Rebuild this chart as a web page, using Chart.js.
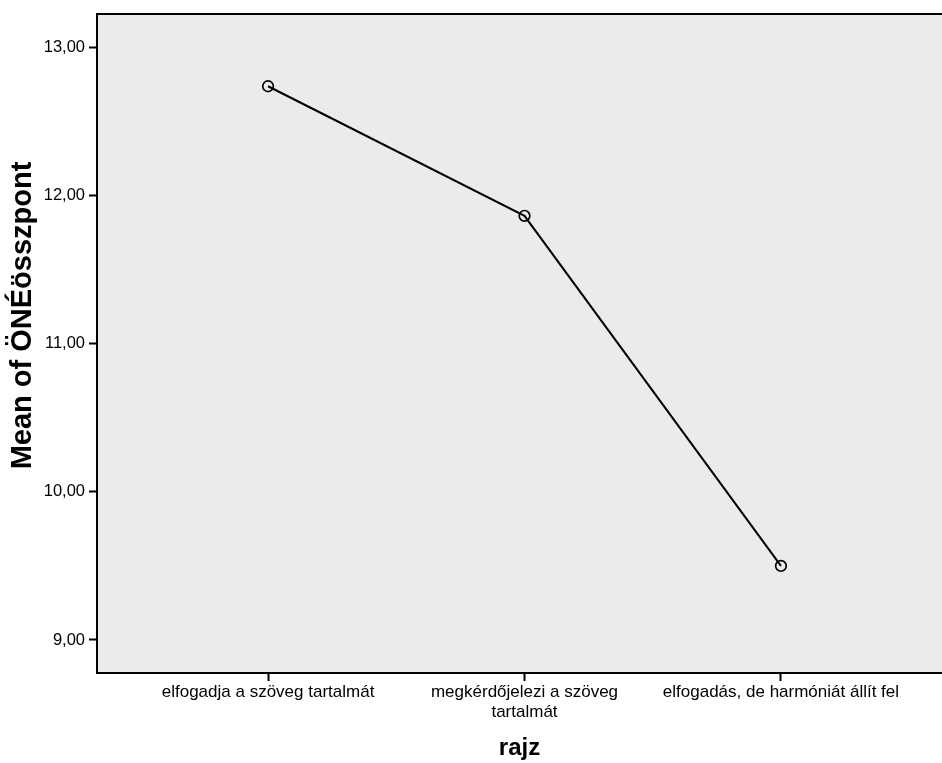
<!DOCTYPE html>
<html>
<head>
<meta charset="utf-8">
<script src="https://cdn.jsdelivr.net/npm/chart.js@4"></script>
<style>
  html, body { margin: 0; padding: 0; background: #fff; }
  #wrap { width: 942px; height: 763px; }
</style>
</head>
<body>
<div id="wrap"><canvas id="meanChart" width="942" height="763"></canvas></div>
<script>
// rajz categories and mean ÖNÉösszpont
const categories = [
  "elfogadja a szöveg tartalmát",
  ["megkérdőjelezi a szöveg", "tartalmát"],
  "elfogadás, de harmóniát állít fel"
];
const categoryPos = [1, 2, 3];
const meanValues = [12.74, 11.865, 9.5];
const yTicks = [9, 10, 11, 12, 13];
const yTitle = "Mean of ÖNÉösszpont";

const font = "'Liberation Sans', Arial, sans-serif";

const plotBackground = {
  id: "plotBackground",
  beforeDraw(chart) {
    const { ctx, chartArea: a } = chart;
    ctx.save();
    ctx.fillStyle = "#ebebeb";
    ctx.fillRect(a.left, a.top, a.right - a.left, a.bottom - a.top);
    ctx.restore();
  },
  afterDraw(chart) {
    const { ctx, chartArea: a } = chart;
    ctx.save();
    // top frame line
    ctx.strokeStyle = "#000";
    ctx.lineWidth = 2;
    ctx.beginPath();
    ctx.moveTo(a.left, a.top);
    ctx.lineTo(a.right, a.top);
    ctx.stroke();
    // y axis title, sits a bit above the plot centre like the original
    ctx.translate(23, (a.top + a.bottom) / 2 - 28);
    ctx.rotate(-Math.PI / 2);
    ctx.fillStyle = "#000";
    ctx.font = "bold 29px " + font;
    ctx.textAlign = "center";
    ctx.textBaseline = "middle";
    ctx.fillText(yTitle, 0, 0);
    ctx.restore();
  }
};

new Chart(document.getElementById("meanChart"), {
  type: "line",
  data: {
    datasets: [
      {
        data: categoryPos.map((x, i) => ({ x: x, y: meanValues[i] })),
        borderColor: "#000",
        borderWidth: 2,
        pointRadius: 5.3,
        pointBorderWidth: 1.7,
        pointBorderColor: "#000",
        pointBackgroundColor: "rgba(0,0,0,0)",
        tension: 0,
      },
    ],
  },
  options: {
    responsive: false,
    animation: false,
    layout: { autoPadding: false, padding: { top: 14, right: 0, left: 0, bottom: 0 } },
    plugins: {
      legend: { display: false },
      tooltip: { enabled: false },
    },
    scales: {
      x: {
        type: "linear",
        min: 0.333,
        max: 3.628,
        afterBuildTicks: (axis) => {
          axis.ticks = categoryPos.map((v) => ({ value: v }));
        },
        afterFit: (axis) => {
          axis.height = 90;
          axis.paddingRight = 0;
          axis.paddingLeft = 0;
        },
        ticks: {
          autoSkip: false,
          maxRotation: 0,
          padding: 2,
          color: "#000",
          font: { family: font, size: 17, lineHeight: 1.15 },
          callback: (v) => categories[categoryPos.indexOf(v)],
        },
        grid: {
          drawOnChartArea: false,
          drawTicks: true,
          tickLength: 8,
          tickWidth: 2,
          tickColor: "#000",
        },
        border: { display: true, color: "#000", width: 2 },
        title: {
          display: true,
          text: "rajz",
          color: "#000",
          font: { family: font, size: 24, weight: "bold" },
          padding: { top: 4, bottom: 0 },
        },
      },
      y: {
        min: 8.777,
        max: 13.228,
        afterBuildTicks: (axis) => {
          axis.ticks = yTicks.map((v) => ({ value: v }));
        },
        afterFit: (axis) => {
          axis.width = 97;
        },
        ticks: {
          padding: 4,
          color: "#000",
          font: { family: font, size: 16.5 },
          callback: (v) => v.toFixed(2).replace(".", ","),
        },
        grid: {
          drawOnChartArea: false,
          drawTicks: true,
          tickLength: 8,
          tickWidth: 2,
          tickColor: "#000",
        },
        border: { display: true, color: "#000", width: 2 },
      },
    },
  },
  plugins: [plotBackground],
});
</script>
</body>
</html>
